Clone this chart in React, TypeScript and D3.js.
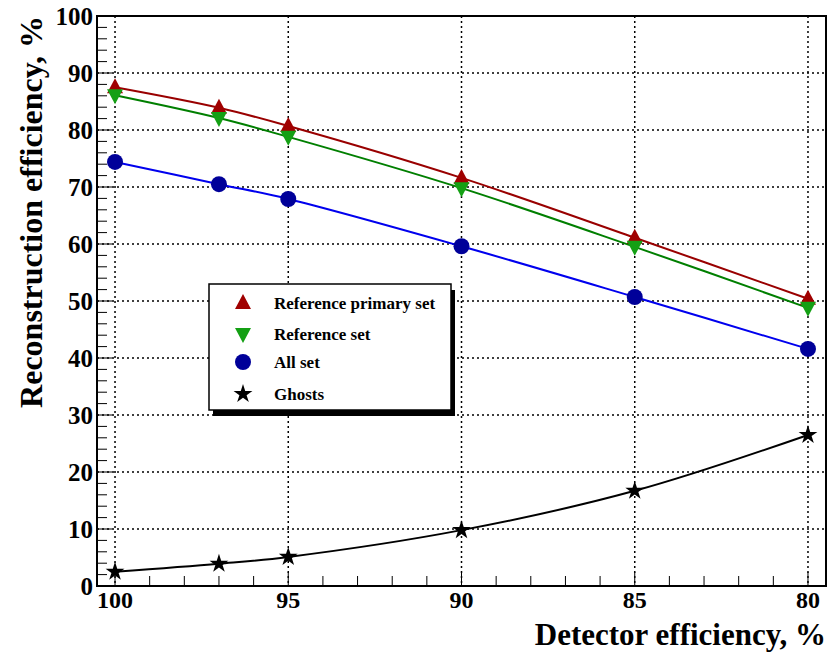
import React from "react";
import * as d3 from "d3";

const detEff = [100, 97, 95, 90, 85, 80];
const refPrimary = [87.5, 83.9, 80.7, 71.6, 61.1, 50.4];
const refSet = [86.1, 82.1, 78.8, 69.8, 59.5, 48.8];
const allSet = [74.4, 70.5, 67.9, 59.6, 50.7, 41.6];
const ghosts = [2.5, 3.9, 5.1, 9.8, 16.7, 26.5];
const xTicks = [100, 95, 90, 85, 80];
const yTicks = [0, 10, 20, 30, 40, 50, 60, 70, 80, 90, 100];
const legendLabels = ["Reference primary set", "Reference set", "All set", "Ghosts"];

const L = 97, R = 826, T = 16, B = 586;
const FONT = "'Liberation Serif', 'Times New Roman', serif";

function Marker({ type, x, y, color }: { type: string; x: number; y: number; color: string }) {
  if (type === "up") {
    return <path d={`M${x},${y - 9} L${x + 8},${y + 6} L${x - 8},${y + 6} Z`} fill={color} />;
  }
  if (type === "down") {
    return <path d={`M${x},${y + 9} L${x + 8},${y - 6} L${x - 8},${y - 6} Z`} fill={color} />;
  }
  if (type === "circle") {
    return <circle cx={x} cy={y} r={8} fill={color} />;
  }
  const star = d3.symbol().type(d3.symbolStar).size(110)();
  return <path d={star || ""} transform={`translate(${x},${y})`} fill={color} />;
}

export default function App() {
  const x = d3.scaleLinear().domain([100.52, 79.48]).range([L, R]);
  const y = d3.scaleLinear().domain([0, 100]).range([B, T]);
  const series = [
    { data: refPrimary, line: "#990000", fill: "#a00000", type: "up" },
    { data: refSet, line: "#007f00", fill: "#14a014", type: "down" },
    { data: allSet, line: "#0000ee", fill: "#000099", type: "circle" },
    { data: ghosts, line: "#000000", fill: "#000000", type: "star" },
  ];
  const lineGen = d3
    .line<number>()
    .x((_, i) => x(detEff[i]))
    .y((d) => y(d))
    .curve(d3.curveCatmullRom.alpha(0.5));

  const xMinor = d3.range(80, 101, 1);
  const yMinor = d3.range(0, 101, 2);

  const legX = 209, legY = 284, legW = 242, legH = 126;
  const legRows = [303, 334, 362, 394];

  return (
    <svg width={837} height={656} style={{ position: "absolute", left: 0, top: 0 }}>
      <rect x={0} y={0} width={837} height={656} fill="#fff" />
      {xTicks.map((t) => (
        <line key={"gx" + t} x1={x(t)} x2={x(t)} y1={T} y2={B} stroke="#000" strokeWidth={1.5} strokeDasharray="2,3" />
      ))}
      {yTicks.filter((t) => t > 0 && t < 100).map((t) => (
        <line key={"gy" + t} x1={L} x2={R} y1={y(t)} y2={y(t)} stroke="#000" strokeWidth={1.5} strokeDasharray="2,3" />
      ))}
      {xMinor.map((t) => (
        <line key={"tx" + t} x1={x(t)} x2={x(t)} y1={B} y2={B - (t % 5 === 0 ? 14 : 10)} stroke="#000" strokeWidth={1} />
      ))}
      {yMinor.map((t) => (
        <line key={"ty" + t} x1={L} x2={L + (t % 10 === 0 ? 15 : 10)} y1={y(t)} y2={y(t)} stroke="#000" strokeWidth={1} />
      ))}
      {series.map((s, i) => (
        <path key={"l" + i} d={lineGen(s.data) || ""} fill="none" stroke={s.line} strokeWidth={2} />
      ))}
      {series.map((s, i) =>
        s.data.map((v, j) => (
          <Marker key={"m" + i + "-" + j} type={s.type} x={x(detEff[j])} y={y(v)} color={s.fill} />
        ))
      )}
      <rect x={L} y={T} width={R - L} height={B - T} fill="none" stroke="#000" strokeWidth={2} />
      {xTicks.map((t) => (
        <text key={"xl" + t} x={x(t)} y={608} textAnchor="middle" fontFamily={FONT} fontWeight="bold" fontSize={24}>
          {t}
        </text>
      ))}
      {yTicks.map((t) => (
        <text key={"yl" + t} x={93} y={y(t) + 9} textAnchor="end" fontFamily={FONT} fontWeight="bold" fontSize={25}>
          {t}
        </text>
      ))}
      <text x={826} y={645} textAnchor="end" fontFamily={FONT} fontWeight="bold" fontSize={31}>
        Detector efficiency, %
      </text>
      <text
        transform="translate(42,16) rotate(-90)"
        textAnchor="end"
        fontFamily={FONT}
        fontWeight="bold"
        fontSize={32}
      >
        Reconstruction efficiency, %
      </text>
      <rect x={legX + 4} y={legY + 6} width={legW} height={legH} fill="#000" />
      <rect x={legX} y={legY} width={legW} height={legH} fill="#fff" stroke="#000" strokeWidth={1.5} />
      {series.map((s, i) => (
        <g key={"leg" + i}>
          <Marker type={s.type} x={243} y={legRows[i]} color={s.fill} />
          <text x={274} y={legRows[i] + 6} fontFamily={FONT} fontWeight="bold" fontSize={17}>
            {legendLabels[i]}
          </text>
        </g>
      ))}
    </svg>
  );
}
